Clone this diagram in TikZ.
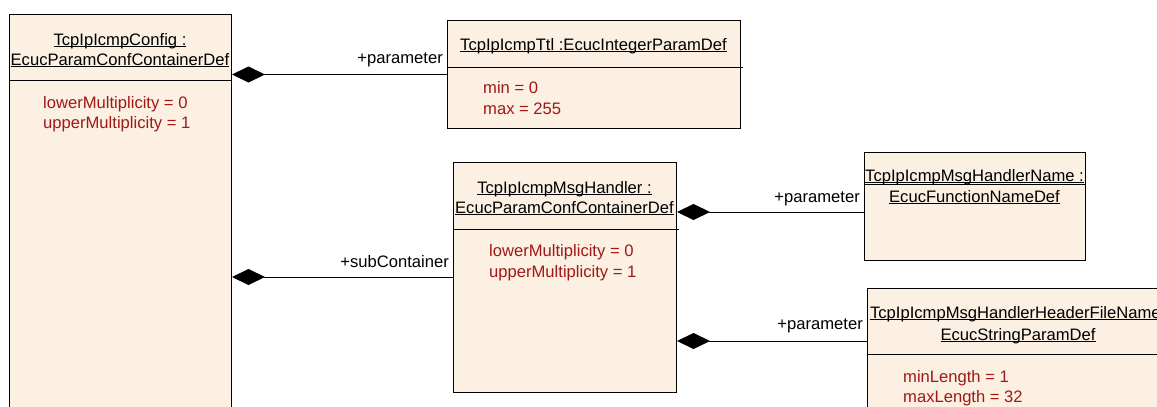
\documentclass[tikz,border=0pt]{standalone}
\usepackage{fontspec}
\setmainfont{Liberation Sans}
\usetikzlibrary{arrows.meta}
\definecolor{boxfill}{RGB}{251,240,226}
\definecolor{attrred}{RGB}{160,24,24}
\newcommand\uml[1]{\setbox0\hbox{#1}\rlap{\rule[-2pt]{\wd0}{0.9pt}}\box0}
\begin{document}
\begin{tikzpicture}[x=1pt,y=-1pt,
  umlbox/.style={draw=black,fill=boxfill,line width=1pt,inner sep=0pt,anchor=north west},
  sepline/.style={line width=1pt},
  txtfont/.style={font=\fontsize{16.6}{20}\selectfont},
  title/.style={inner sep=0pt,anchor=base,txtfont},
  attr/.style={inner sep=0pt,anchor=base west,text=attrred,txtfont},
  role/.style={inner sep=0pt,anchor=base east,txtfont},
  comp/.style={line width=1pt,{Diamond[length=33pt,width=16pt,fill=black]}-}]
\useasboundingbox (0,0) rectangle (1157,407);
\clip (0,0) rectangle (1157,407);
\fill[white] (0,0) rectangle (1157,407);
% boxes
\node[umlbox,minimum width=222pt,minimum height=420pt] (cfg) at (9,14) {};
\node[umlbox,minimum width=293pt,minimum height=108pt] (ttl) at (447,20) {};
\node[umlbox,minimum width=223pt,minimum height=230pt] (hdl) at (453,162) {};
\node[umlbox,minimum width=221pt,minimum height=108pt] (hname) at (864,152) {};
\node[umlbox,minimum width=302pt,minimum height=160pt] (hfile) at (867,288) {};
% separators
\draw[sepline] (cfg.west |- 0,80) -- (cfg.east |- 0,80);
\draw[sepline] (ttl.west |- 0,67) -- ([xshift=2pt]ttl.east |- 0,67);
\draw[sepline] (hdl.west |- 0,229) -- ([xshift=2pt]hdl.east |- 0,229);
\draw[sepline] (hname.west |- 0,184) -- (hname.east |- 0,184);
\draw[sepline] (hfile.west |- 0,354) -- (hfile.east |- 0,354);
% titles
\node[title] (cfgt1) at (120,45) {\uml{TcpIpIcmpConfig :}};
\node[title] (cfgt2) at (120,65) {\uml{EcucParamConfContainerDef}};
\node[title] (ttlt) at (593.5,50) {\uml{TcpIpIcmpTtl :EcucIntegerParamDef}};
\node[title] (hdlt1) at (564.5,193) {\uml{TcpIpIcmpMsgHandler :}};
\node[title] (hdlt2) at (564.5,213) {\uml{EcucParamConfContainerDef}};
\node[title] (hnamet1) at (974.5,181) {\uml{TcpIpIcmpMsgHandlerName :}};
\node[title] (hnamet2) at (974.5,202) {\uml{EcucFunctionNameDef}};
\node[title] (hfilet1) at (1020,318) {\uml{TcpIpIcmpMsgHandlerHeaderFileName :}};
\node[title] (hfilet2) at (1018,340) {\uml{EcucStringParamDef}};
% attributes
\node[attr] (cfga1) at (43,108) {lowerMultiplicity = 0};
\node[attr] (cfga2) at (43,128) {upperMultiplicity = 1};
\node[attr] (ttla1) at (483,93) {min = 0};
\node[attr] (ttla2) at (483,114) {max = 255};
\node[attr] (hdla1) at (489,256) {lowerMultiplicity = 0};
\node[attr] (hdla2) at (489,277) {upperMultiplicity = 1};
\node[attr] (hfilea1) at (903,382) {minLength = 1};
\node[attr] (hfilea2) at (903,402) {maxLength = 32};
% connectors
\coordinate (p1) at (ttl.west);
\coordinate (p2) at (hdl.west |- 0,277);
\coordinate (p3) at (hname.west |- 0,212);
\coordinate (p4) at (hfile.west |- 0,341);
\draw[comp] (cfg.east |- p1) -- (p1);
\draw[comp] (cfg.east |- p2) -- (p2);
\draw[comp] (hdl.east |- p3) -- (p3);
\draw[comp] (hdl.east |- p4) -- (p4);
% role labels
\node[role] (r1) at ([xshift=-4pt,yshift=11pt]p1) {+parameter};
\node[role] (r2) at ([xshift=-4pt,yshift=10pt]p2) {+subContainer};
\node[role] (r3) at ([xshift=-4pt,yshift=10pt]p3) {+parameter};
\node[role] (r4) at ([xshift=-4pt,yshift=12pt]p4) {+parameter};
\end{tikzpicture}
\end{document}
